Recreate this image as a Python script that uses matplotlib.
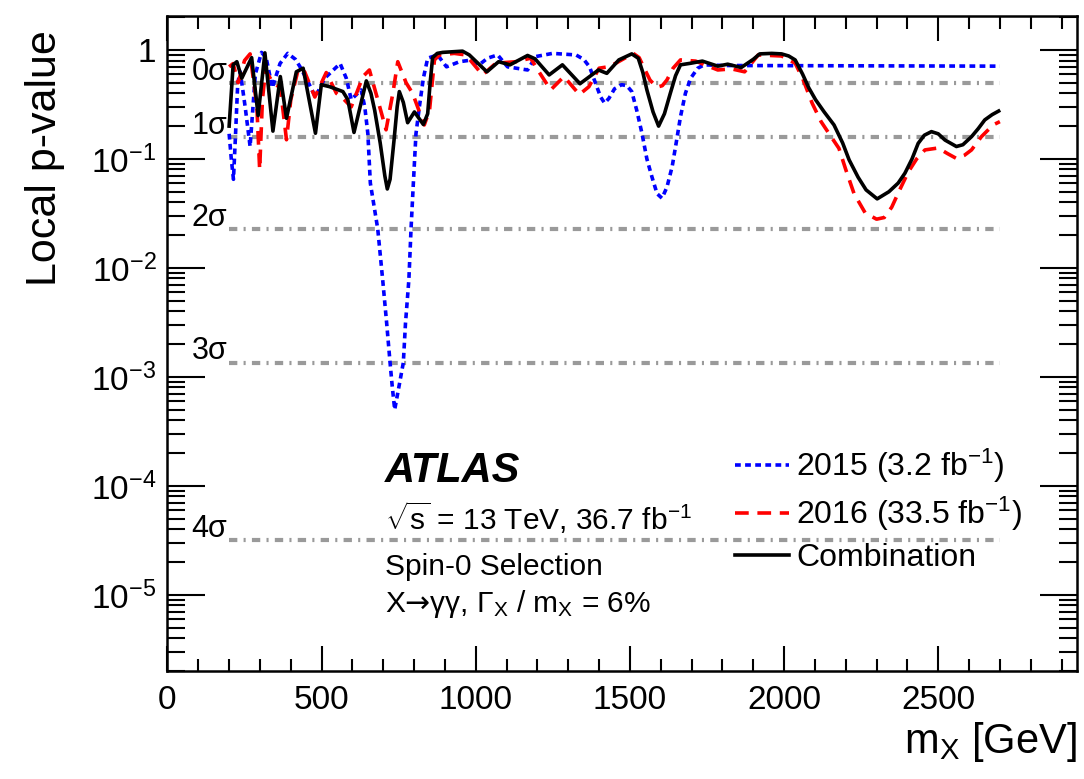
import numpy as np
import matplotlib
matplotlib.use("Agg")
import matplotlib.pyplot as plt
from matplotlib.ticker import FixedLocator, FuncFormatter, MultipleLocator

plt.rcParams['font.family'] = ['Liberation Sans', 'DejaVu Sans']
plt.rcParams['mathtext.fontset'] = 'custom'
plt.rcParams['mathtext.rm'] = 'Liberation Sans'
plt.rcParams['mathtext.it'] = 'Liberation Sans:italic'
plt.rcParams['mathtext.bf'] = 'Liberation Sans:bold'
plt.rcParams['mathtext.sf'] = 'DejaVu Sans'
plt.rcParams['mathtext.default'] = 'regular'

# ---------------- data ----------------
m_2015 = [200, 207, 214, 220, 228, 236, 252, 268, 285, 305, 320, 340, 365, 390, 415, 430,
          450, 480, 510, 560, 580, 596, 628, 640, 650, 658, 682, 698, 711, 722, 729, 737,
          751, 765, 772, 783, 790, 797, 806, 817, 830, 844, 876, 905, 947, 975, 1011, 1038,
          1071, 1103, 1168, 1195, 1249, 1325, 1350, 1369, 1389, 1405, 1418, 1432, 1450,
          1473, 1490, 1506, 1522, 1539, 1555, 1571, 1588, 1604, 1620, 1637, 1650, 1664,
          1680, 1697, 1720, 1741, 1800, 2700]
p_2015 = [0.17, 0.10, 0.065, 0.15, 0.50, 0.63, 0.30, 0.13, 0.60, 0.95, 0.85, 0.45, 0.75,
          0.93, 0.82, 0.70, 0.55, 0.37, 0.55, 0.75, 0.55, 0.35, 0.43, 0.30, 0.17, 0.06,
          0.0228, 7.8e-3, 3.1e-3, 1.35e-3, 8.2e-4, 5.0e-4, 8.2e-4, 1.35e-3, 3.1e-3, 7.8e-3,
          0.0228, 0.056, 0.17, 0.30, 0.55, 0.84, 0.90, 0.70, 0.78, 0.80, 0.73, 0.84, 0.90,
          0.70, 0.655, 0.87, 0.93, 0.90, 0.82, 0.70, 0.49, 0.37, 0.325, 0.36, 0.44,
          0.48, 0.47, 0.415, 0.28, 0.172, 0.10, 0.069, 0.048, 0.0436, 0.055, 0.085, 0.14,
          0.244, 0.40, 0.55, 0.68, 0.73, 0.72, 0.71]

m_2016 = [200, 213, 229, 250, 268, 290, 299, 308, 318, 342, 366, 386, 400, 425, 445, 478,
          515, 548, 569, 596, 634, 655, 682, 709, 731, 747, 774, 795, 833, 850, 866, 882,
          930, 968, 1022, 1065, 1130, 1178, 1205, 1243, 1286, 1336, 1367, 1400, 1429, 1454,
          1511, 1530, 1544, 1565, 1587, 1605, 1620, 1640, 1664, 1713, 1785, 1830, 1872,
          1916, 1992, 2036, 2060, 2091, 2120, 2145, 2178, 2200, 2227, 2263, 2300, 2325,
          2349, 2375, 2403, 2430, 2457, 2500, 2530, 2559, 2585, 2608, 2640, 2678, 2700]
p_2016 = [0.70, 0.75, 0.50, 0.80, 0.92, 0.30, 0.08, 0.35, 0.65, 0.50, 0.45, 0.15, 0.35,
          0.68, 0.63, 0.37, 0.62, 0.40, 0.36, 0.30, 0.57, 0.655, 0.35, 0.185, 0.40, 0.78,
          0.50, 0.40, 0.205, 0.28, 0.81, 0.90, 0.93, 0.90, 0.59, 0.755, 0.78, 0.84, 0.63,
          0.43, 0.57, 0.39, 0.46, 0.68, 0.70, 0.755, 0.93, 0.85, 0.70, 0.53, 0.455, 0.47,
          0.53, 0.68, 0.81, 0.79, 0.655, 0.67, 0.63, 0.90, 0.88, 0.755, 0.55, 0.325, 0.22,
          0.172, 0.125, 0.08, 0.048, 0.032, 0.028, 0.029, 0.036, 0.052, 0.076, 0.10, 0.121,
          0.126, 0.112, 0.101, 0.108, 0.121, 0.16, 0.205, 0.22]

m_comb = [200, 213, 225, 241, 273, 294, 316, 342, 366, 386, 418, 440, 480, 499, 526, 569,
          585, 605, 645, 660, 672, 690, 705, 713, 722, 735, 745, 752, 765, 779, 801, 830,
          844, 852, 860, 875, 893, 957, 979, 1036, 1074, 1111, 1168, 1192, 1238, 1281,
          1338, 1398, 1425, 1464, 1506, 1527, 1542, 1555, 1575, 1593, 1612, 1631, 1648,
          1664, 1697, 1735, 1785, 1817, 1861, 1900, 1921, 1960, 1992, 2015, 2036, 2060,
          2080, 2102, 2130, 2162, 2190, 2211, 2240, 2266, 2302, 2340, 2370, 2392, 2415,
          2435, 2455, 2478, 2500, 2522, 2559, 2580, 2608, 2630, 2651, 2675, 2696]
p_comb = [0.20, 0.73, 0.78, 0.55, 0.85, 0.25, 0.94, 0.18, 0.57, 0.236, 0.63, 0.68, 0.172,
          0.48, 0.46, 0.415, 0.35, 0.175, 0.52, 0.40, 0.28, 0.14, 0.07, 0.053, 0.065, 0.15,
          0.30, 0.415, 0.33, 0.215, 0.27, 0.207, 0.26, 0.50, 0.85, 0.93, 0.95, 0.975, 0.90,
          0.63, 0.78, 0.73, 0.89, 0.83, 0.59, 0.73, 0.49, 0.655, 0.61, 0.81, 0.92, 0.84,
          0.62, 0.43, 0.27, 0.20, 0.26, 0.40, 0.58, 0.73, 0.755, 0.79, 0.71, 0.74, 0.69,
          0.82, 0.92, 0.93, 0.92, 0.88, 0.81, 0.60, 0.45, 0.35, 0.27, 0.205, 0.14, 0.098,
          0.068, 0.052, 0.043, 0.050, 0.060, 0.074, 0.10, 0.139, 0.165, 0.178, 0.17, 0.149,
          0.13, 0.135, 0.16, 0.19, 0.228, 0.255, 0.275]

sigma_labels = ['0σ', '1σ', '2σ', '3σ', '4σ']
sigma_pvalues = [0.5, 0.1587, 0.02275, 1.35e-3, 3.17e-5]
sigma_range = [200, 2700]

legend_labels = ['2015 (3.2 fb$^{-1}$)', '2016 (33.5 fb$^{-1}$)', 'Combination']

# ---------------- figure ----------------
fig = plt.figure(figsize=(10.84, 7.79), dpi=100)
ax = fig.add_axes([0.1545, 0.1386, 0.8390, 0.8409])

grey = '#9a9a9a'
for lab, pv in zip(sigma_labels, sigma_pvalues):
    ax.plot(sigma_range, [pv, pv], color=grey, lw=3.0, dashes=(2.0, 1.5, 0.5, 1.5),
            solid_capstyle='butt', dash_capstyle='butt', zorder=1)
    ax.text(78, pv * 1.07, lab, fontsize=22, ha='left', va='baseline', zorder=2)

l15, = ax.plot(m_2015, p_2015, color='#0000ff', lw=2.6, dashes=(1.6, 1.2), zorder=3)
l16, = ax.plot(m_2016, p_2016, color='#ff0000', lw=2.6, dashes=(3.8, 2.4), zorder=4)
lc, = ax.plot(m_comb, p_comb, color='black', lw=2.6, zorder=5)

ax.set_yscale('log')
ax.set_xlim(0, 2950)
ax.set_ylim(2e-6, 2.05)

ax.xaxis.set_major_locator(MultipleLocator(500))
ax.xaxis.set_minor_locator(MultipleLocator(100))
ax.yaxis.set_major_locator(FixedLocator([1e-5, 1e-4, 1e-3, 1e-2, 1e-1, 1]))
minors = [k * 10.0 ** e for e in range(-6, 1) for k in range(2, 10)]
ax.yaxis.set_minor_locator(FixedLocator(minors))


def yfmt(v, pos):
    e = int(round(np.log10(v)))
    if e == 0:
        return '1'
    return r'10$^{%d}$' % e


ax.yaxis.set_major_formatter(FuncFormatter(yfmt))
ax.yaxis.set_minor_formatter(FuncFormatter(lambda v, p: ''))

ax.tick_params(which='both', direction='in', top=True, right=True, labelsize=24, width=1.5)
ax.tick_params(axis='x', which='major', length=18, pad=10)
ax.tick_params(axis='x', which='minor', length=9)
ax.tick_params(axis='y', which='major', length=27, pad=8)
ax.tick_params(axis='y', which='minor', length=13)
for s in ax.spines.values():
    s.set_linewidth(1.8)

ax.set_ylabel('Local p-value', fontsize=31, loc='top')
ax.yaxis.set_label_coords(-0.113, 0.979)
ax.set_xlabel(r'm$_{\rm X}$ [GeV]', fontsize=30, loc='right')
ax.xaxis.set_label_coords(1.0, -0.075)

# ATLAS labels
tx = 0.239
ax.text(tx, 0.289, 'ATLAS', transform=ax.transAxes, fontsize=30, fontweight='bold',
        fontstyle='italic', ha='left', va='baseline')
ax.text(tx, 0.215, r'$\sqrt{s}$ = 13 TeV, 36.7 fb$^{-1}$', transform=ax.transAxes,
        fontsize=21.5, ha='left', va='baseline')
ax.text(tx, 0.147, 'Spin-0 Selection', transform=ax.transAxes, fontsize=21.5,
        ha='left', va='baseline')
ax.text(tx, 0.090, r'X$\mathsf{→}$γγ, Γ$_{\rm X}$ / m$_{\rm X}$ = 6%',
        transform=ax.transAxes, fontsize=21.5, ha='left', va='baseline')

ax.legend([l15, l16, lc], legend_labels, loc='upper left', bbox_to_anchor=(0.624, 0.342),
          frameon=False, fontsize=23, handlelength=1.7, handletextpad=0.22,
          borderpad=0, borderaxespad=0, labelspacing=0.3)

fig.savefig('out.png', dpi=100)
